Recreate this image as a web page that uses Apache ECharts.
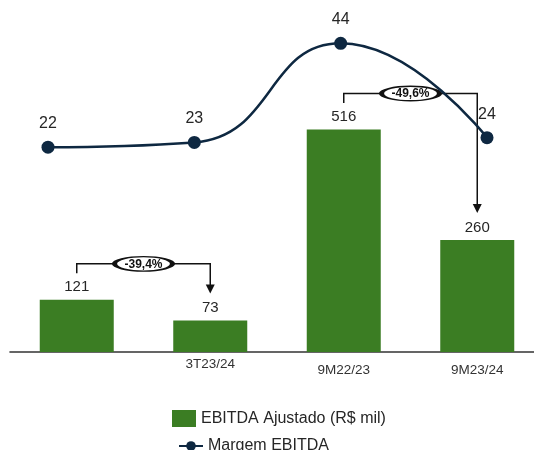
<!DOCTYPE html>
<html>
<head>
<meta charset="utf-8">
<script src="https://cdn.jsdelivr.net/npm/echarts@6/dist/echarts.min.js"></script>
<style>
  html, body { margin: 0; padding: 0; background: #ffffff; }
  #chart { width: 534px; height: 450px; }
</style>
</head>
<body>
<div id="chart"></div>
<script>
// Periods shown on the bottom axis (first one carries no label)
const categories = ['3T22/23', '3T23/24', '9M22/23', '9M23/24'];
const axisLabels = ['', '3T23/24', '9M22/23', '9M23/24'];
// Adjusted EBITDA, R$ thousand
const ebitda = [121, 73, 516, 260];
// EBITDA margin, %
const margin = [22, 23, 44, 24];
// Period-over-period change callouts: [from index, to index, text]
const changes = [
  [0, 1, '-39,4%'],
  [2, 3, '-49,6%']
];
const barName = 'EBITDA Ajustado (R$ mil)';
const lineName = 'Margem EBITDA';

const GREEN = '#3B7D23';
const NAVY = '#0E2841';
const FONT = '"Liberation Sans", Arial, sans-serif';

const chart = echarts.init(document.getElementById('chart'), null, { renderer: 'canvas' });

chart.setOption({
  animation: false,
  textStyle: { fontFamily: FONT },
  grid: [
    // bar grid runs past the right edge of the canvas
    { left: 10, width: 534, top: 7, bottom: 98, outerBoundsMode: 'none', containLabel: false },
    { left: 48, right: 47, top: 15, bottom: 199, outerBoundsMode: 'none', containLabel: false }
  ],
  xAxis: [
    {
      type: 'category', gridIndex: 0, data: categories,
      axisTick: { show: false },
      axisLine: { lineStyle: { color: '#333333', width: 1.6 } },
      axisLabel: {
        margin: 5,
        interval: 0,
        fontSize: 13.5,
        color: '#333333',
        formatter: function (v, i) {
          const t = axisLabels[i];
          if (!t) return '';
          return (i === 1 ? '{a|' : '{b|') + t + '}';
        },
        rich: {
          a: { fontSize: 13.5, color: '#333333', fontFamily: FONT },
          b: { fontSize: 13.5, color: '#333333', fontFamily: FONT, padding: [6, 0, 0, 0] }
        }
      }
    },
    {
      type: 'category', gridIndex: 1, data: categories, boundaryGap: false,
      show: false
    }
  ],
  yAxis: [
    { type: 'value', gridIndex: 0, min: 0, max: 800, show: false, splitLine: { show: false } },
    { type: 'value', gridIndex: 1, min: 0, max: 50, show: false, splitLine: { show: false } }
  ],
  legend: [
    {
      data: [{ name: barName, icon: 'rect' }], orient: 'vertical', left: 172, top: 410,
      padding: 0, itemWidth: 24, itemHeight: 17, itemGap: 6,
      textStyle: { fontSize: 16, color: '#262626', fontFamily: FONT }
    },
    {
      data: [lineName], orient: 'vertical', left: 178, top: 438,
      padding: 0, itemWidth: 24, itemHeight: 12, itemGap: 8,
      textStyle: { fontSize: 16, color: '#262626', fontFamily: FONT }
    }
  ],
  series: [
    {
      name: barName, type: 'bar', xAxisIndex: 0, yAxisIndex: 0,
      data: ebitda, barWidth: 74,
      itemStyle: { color: GREEN },
      label: { show: true, position: 'top', distance: 5, fontSize: 15, color: '#262626', fontFamily: FONT }
    },
    {
      name: lineName, type: 'line', xAxisIndex: 1, yAxisIndex: 1,
      data: margin, smooth: 0.5, z: 10,
      symbol: 'circle', symbolSize: 13,
      lineStyle: { color: NAVY, width: 2.5 },
      itemStyle: { color: NAVY },
      label: { show: true, position: 'top', distance: 9, fontSize: 16, color: '#262626', fontFamily: FONT }
    }
  ]
});

// Change callouts: bracket from one bar to another, with an oval tag in the middle
function drawCallouts() {
  const elements = [];
  changes.forEach(function (c) {
    const a = chart.convertToPixel({ seriesIndex: 0 }, [c[0], ebitda[c[0]]]);
    const b = chart.convertToPixel({ seriesIndex: 0 }, [c[1], ebitda[c[1]]]);
    const yStart = a[1] - 26.5;
    const yTop = Math.min(a[1], b[1]) - 36;
    const tip = b[1] - 27;
    elements.push({
      type: 'polyline', z: 1,
      shape: { points: [[a[0], yStart], [a[0], yTop], [b[0], yTop], [b[0], tip - 8]] },
      style: { stroke: '#111111', lineWidth: 1.5, fill: null }
    });
    elements.push({
      type: 'polygon', z: 1,
      shape: { points: [[b[0] - 4.5, tip - 9], [b[0] + 4.5, tip - 9], [b[0], tip]] },
      style: { fill: '#111111' }
    });
    const cx = (a[0] + b[0]) / 2;
    elements.push({
      type: 'circle', z: 2, x: cx, y: yTop, scaleX: 58 / 14.5,
      shape: { cx: 0, cy: 0, r: 7.25 },
      style: { fill: '#ffffff', stroke: '#111111', lineWidth: 1.3, strokeNoScale: true }
    });
    elements.push({
      type: 'text', z: 3, x: cx, y: yTop + 0.5,
      style: {
        text: c[2], fill: '#111111', font: 'bold 12px ' + FONT,
        textAlign: 'center', textVerticalAlign: 'middle'
      }
    });
  });
  chart.setOption({ graphic: elements });
}
drawCallouts();
</script>
</body>
</html>
